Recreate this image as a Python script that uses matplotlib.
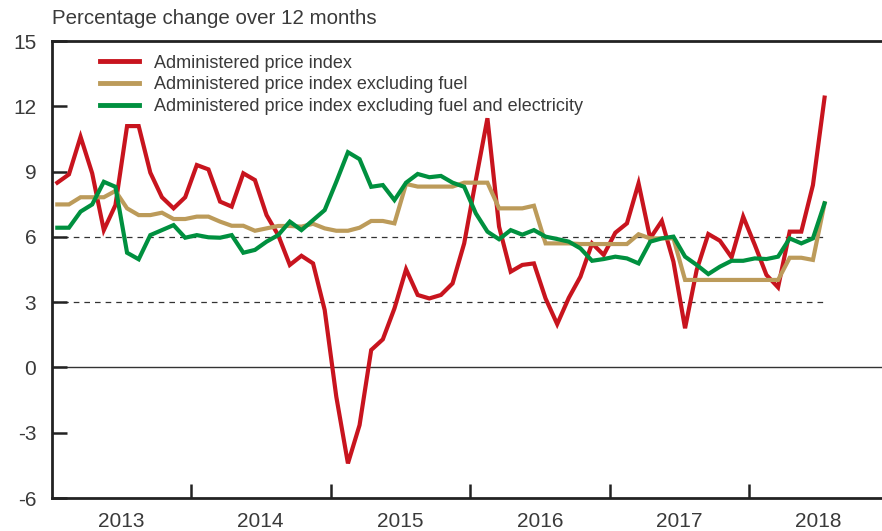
import matplotlib
matplotlib.use("Agg")
import matplotlib.pyplot as plt
import numpy as np

plt.rcParams['font.family'] = ['Liberation Sans', 'DejaVu Sans']

years = ["2013", "2014", "2015", "2016", "2017", "2018"]

api = [8.49, 8.87, 10.6, 8.92, 6.31, 7.46, 11.09, 11.09, 8.95, 7.82, 7.31, 7.82,
       9.30, 9.10, 7.62, 7.39, 8.92, 8.61, 7.00, 6.08, 4.71, 5.13, 4.78, 2.64,
       -1.35, -4.41, -2.65, 0.80, 1.29, 2.71, 4.51, 3.33, 3.17, 3.33, 3.86, 5.70,
       8.61, 11.45, 6.47, 4.40, 4.71, 4.78, 3.17, 1.99, 3.20, 4.17, 5.70, 5.17,
       6.19, 6.62, 8.46, 5.93, 6.73, 4.86, 1.80, 4.48, 6.13, 5.82, 5.06, 6.93,
       5.63, 4.25, 3.68, 6.24, 6.24, 8.38, 12.40]

api_ex_fuel = [7.49, 7.49, 7.82, 7.82, 7.82, 8.11, 7.31, 7.00, 7.00, 7.11, 6.82, 6.82,
               6.93, 6.93, 6.70, 6.51, 6.51, 6.28, 6.39, 6.50, 6.50, 6.47, 6.60, 6.39,
               6.28, 6.28, 6.42, 6.73, 6.73, 6.62, 8.43, 8.31, 8.31, 8.31, 8.31, 8.49,
               8.49, 8.49, 7.31, 7.31, 7.31, 7.43, 5.70, 5.70, 5.70, 5.67, 5.67, 5.67,
               5.67, 5.67, 6.12, 5.93, 5.93, 5.93, 4.02, 4.02, 4.02, 4.02, 4.02, 4.02,
               4.02, 4.02, 4.02, 5.04, 5.04, 4.94, 7.54]

api_ex_fuel_elec = [6.42, 6.42, 7.16, 7.49, 8.53, 8.30, 5.27, 4.97, 6.08, 6.31, 6.54, 5.96,
                    6.08, 5.98, 5.96, 6.08, 5.27, 5.40, 5.78, 6.08, 6.70, 6.31, 6.77, 7.23,
                    8.53, 9.89, 9.57, 8.30, 8.38, 7.69, 8.49, 8.89, 8.74, 8.80, 8.49, 8.30,
                    7.08, 6.24, 5.89, 6.31, 6.10, 6.31, 6.01, 5.90, 5.78, 5.47, 4.90, 4.98,
                    5.09, 5.01, 4.78, 5.78, 5.93, 6.01, 5.09, 4.71, 4.29, 4.63, 4.90, 4.90,
                    5.01, 4.98, 5.09, 5.93, 5.70, 5.93, 7.54]

labels = ["Administered price index",
          "Administered price index excluding fuel",
          "Administered price index excluding fuel and electricity"]
colors = ["#C8141E", "#BC9B5A", "#00903F"]

text_c = "#3a3a3a"

fig = plt.figure(figsize=(8.82, 5.31), dpi=100)
ax = fig.add_axes([51.5/882, 33/531, 1 - 51.5/882, 457/531])

x = np.arange(len(api)) + 0.5
for series, lab, col in zip([api, api_ex_fuel, api_ex_fuel_elec], labels, colors):
    ax.plot(x, series, color=col, lw=3.0, label=lab, solid_joinstyle='miter', zorder=3)

xmax = x[-1]
ax.axhline(0, color="#333333", lw=1.0, zorder=1)
for yv in (3, 6):
    ax.plot([0, xmax], [yv, yv], color="#333333", lw=0.9, ls=(0, (4.5, 4)), zorder=1)

ax.set_xlim(0, (882 - 51.5) / 11.625)
ax.set_ylim(-6, 15)
ax.set_yticks([-6, -3, 0, 3, 6, 9, 12, 15])
ax.set_yticklabels(["-6", "-3", "0", "3", "6", "9", "12", "15"])

ax.set_xticks([12, 24, 36, 48, 60])
ax.set_xticklabels([])
ax.set_xticks([6 + 12*i for i in range(len(years))], minor=True)
ax.set_xticklabels(years, minor=True)

ax.tick_params(axis='y', direction='in', length=11, width=1.8, color="#222222",
               labelsize=15, labelcolor=text_c, pad=11)
ax.tick_params(axis='x', which='major', direction='in', length=10, width=1.8, color="#222222")
ax.tick_params(axis='x', which='minor', length=0, labelsize=15, labelcolor=text_c, pad=10)

for s in ['left', 'bottom', 'top']:
    ax.spines[s].set_linewidth(2.0)
    ax.spines[s].set_color("#222222")
ax.spines['right'].set_visible(False)

leg = ax.legend(loc='upper left', bbox_to_anchor=(48.5/830.5, 1 - 13.5/457), frameon=False,
                fontsize=13, handlelength=2.15, handletextpad=0.85, labelspacing=0.27,
                borderpad=0, borderaxespad=0)
for t in leg.get_texts():
    t.set_color(text_c)
for h in leg.get_lines():
    h.set_linewidth(3.5)

fig.text(51.5/882, 1 - 18/531, "Percentage change over 12 months", fontsize=14.8,
         color=text_c, ha='left', va='center')

fig.savefig("out.png", dpi=100)
